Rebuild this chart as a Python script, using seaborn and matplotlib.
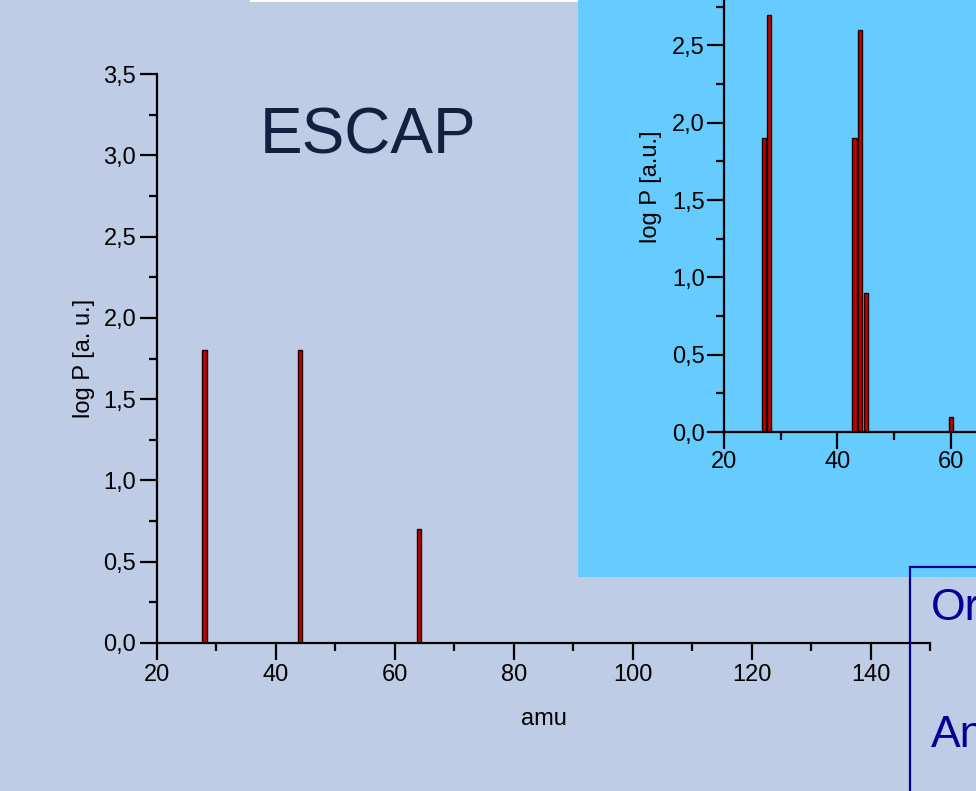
import numpy as np
import pandas as pd
import matplotlib
matplotlib.use("Agg")
import matplotlib.pyplot as plt
from matplotlib.patches import Rectangle
from matplotlib.ticker import MultipleLocator, FuncFormatter
import seaborn as sns

# ---- data ----
main_amu = [28, 44, 64]
main_logp = [1.8, 1.8, 0.7]
inset_amu = [27, 28, 43, 44, 45, 60]
inset_logp = [1.9, 2.7, 1.9, 2.6, 0.9, 0.1]
main_xticks = [20, 40, 60, 80, 100, 120, 140]
inset_xticks = [20, 40, 60]
title_text = "ESCAP"
box_lines = ["Or", "An"]
main_ylabel = "log P [a. u.]"
inset_ylabel = "log P [a.u.]"
xlabel = "amu"

# ---- style ----
BG = "#BFCCE6"
INSET_BG = "#66CCFF"
BAR_FACE = "#C00000"
BAR_EDGE = "#1A0000"
plt.rcParams['font.family'] = ['Liberation Sans', 'DejaVu Sans']

W, H = 976, 791
fig = plt.figure(figsize=(W / 100, H / 100), dpi=100)
fig.patch.set_facecolor(BG)


def fx(px):
    return px / W


def fy(py):
    return 1 - py / H


comma = FuncFormatter(lambda v, p: f"{v:.1f}".replace(".", ","))


def style_axes(ax, labelsize, pad):
    ax.set_facecolor("none")
    for s in ["top", "right"]:
        ax.spines[s].set_visible(False)
    for s in ["left", "bottom"]:
        ax.spines[s].set_linewidth(1.6)
        ax.spines[s].set_color("black")
    ax.tick_params(which="major", direction="out", length=12, width=1.6,
                   colors="black", labelsize=labelsize, pad=pad)
    ax.tick_params(which="minor", direction="out", length=6, width=1.6,
                   colors="black")


# background patches
fig.add_artist(Rectangle((fx(578), fy(577)), 1 - fx(578), fy(0) - fy(577),
                         transform=fig.transFigure, facecolor=INSET_BG,
                         edgecolor="none", zorder=-1))
fig.add_artist(Rectangle((fx(250), fy(2)), fx(578) - fx(250), 2 / H,
                         transform=fig.transFigure, facecolor="white",
                         edgecolor="none", zorder=-1))

# ---- main axes ----
ax = fig.add_axes([fx(157), fy(643), fx(930) - fx(157), fy(74) - fy(643)])
df_main = pd.DataFrame({"amu": main_amu, "logp": main_logp})
sns.barplot(data=df_main, x="amu", y="logp", native_scale=True,
            width=0.7 / np.min(np.diff(main_amu)), color=BAR_FACE,
            saturation=1, edgecolor=BAR_EDGE, linewidth=1, errorbar=None,
            ax=ax)
ax.set_xlim(20, 150)
ax.set_ylim(0, 3.5)
ax.set_xticks(main_xticks)
ax.set_xticklabels([str(t) for t in main_xticks])
ax.xaxis.set_minor_locator(MultipleLocator(10))
ax.yaxis.set_major_locator(MultipleLocator(0.5))
ax.yaxis.set_minor_locator(MultipleLocator(0.25))
ax.yaxis.set_major_formatter(comma)
style_axes(ax, 17, 3)
ax.tick_params(axis="x", which="major", pad=3)
ax.set_xlabel(xlabel, fontsize=17, labelpad=16)
ax.set_ylabel(main_ylabel, fontsize=17, labelpad=6)

# ---- inset axes ----
ax2 = fig.add_axes([fx(724), fy(432), 1 - fx(724), 1 - fy(432)])
df_in = pd.DataFrame({"amu": inset_amu, "logp": inset_logp})
sns.barplot(data=df_in, x="amu", y="logp", native_scale=True,
            width=0.75 / np.min(np.diff(inset_amu)), color=BAR_FACE,
            saturation=1, edgecolor=BAR_EDGE, linewidth=1, errorbar=None,
            ax=ax2)
ax2.set_xlim(20, 20 + (W - 724) / 5.67)
ax2.set_ylim(0, 432 / 154.6)
ax2.set_xticks(inset_xticks)
ax2.set_xticklabels([str(t) for t in inset_xticks])
ax2.xaxis.set_minor_locator(MultipleLocator(10))
ax2.yaxis.set_major_locator(MultipleLocator(0.5))
ax2.yaxis.set_minor_locator(MultipleLocator(0.25))
ax2.yaxis.set_major_formatter(comma)
style_axes(ax2, 17, 2)
ax2.set_xlabel("")
ax2.set_ylabel(inset_ylabel, fontsize=17)
ax2.yaxis.set_label_coords(-0.245, 0.567)

# ---- texts ----
fig.text(fx(368), fy(137), title_text, fontsize=46, color="#13203F",
         ha="center", va="center")
fig.add_artist(Rectangle((fx(910), -0.1), 0.2, fy(567) + 0.1,
                         transform=fig.transFigure, facecolor="none",
                         edgecolor="#000099", linewidth=1.6, zorder=3))
fig.text(fx(931), fy(620), box_lines[0], fontsize=32, color="#000099",
         ha="left", va="baseline")
fig.text(fx(931), fy(747), box_lines[1], fontsize=32, color="#000099",
         ha="left", va="baseline")

fig.savefig("out.png", dpi=100, facecolor=fig.get_facecolor())
